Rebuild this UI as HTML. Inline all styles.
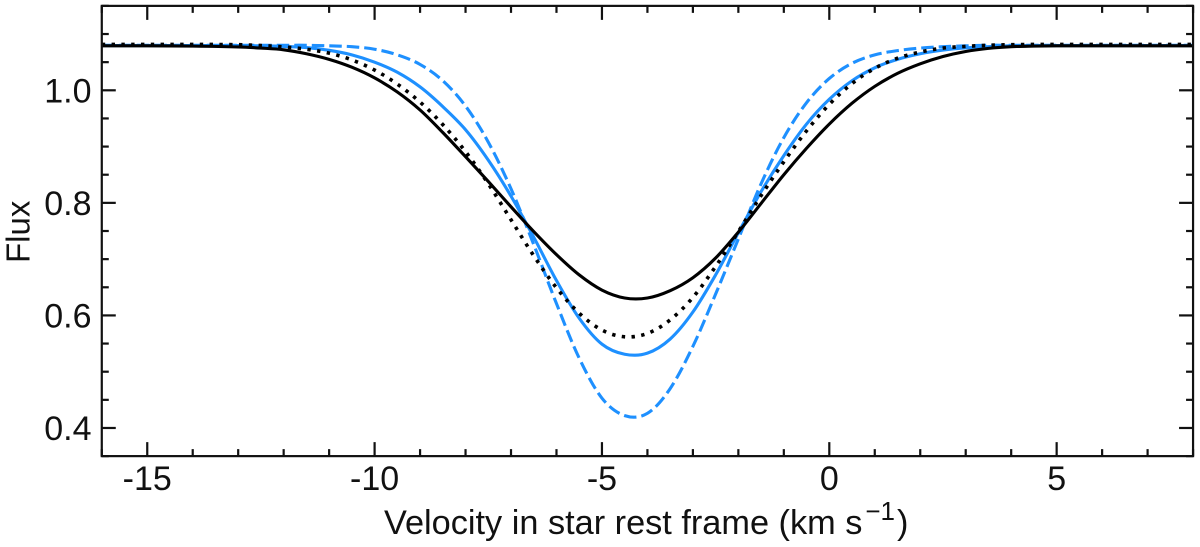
<!DOCTYPE html>
<html>
<head>
<meta charset="utf-8">
<style>
html,body{margin:0;padding:0;background:#fff;width:1200px;height:547px;overflow:hidden}
svg{display:block}
text{font-family:"Liberation Sans",Arial,sans-serif;fill:#111}
</style>
</head>
<body>
<svg id="chart" width="1200" height="547" viewBox="0 0 1200 547" xmlns="http://www.w3.org/2000/svg">
  <text x="384" y="534" font-size="34.3">Velocity in star rest frame (km s<tspan dx="3" dy="-14" font-size="26">−1</tspan><tspan dx="2" dy="14">)</tspan></text>
  <text transform="translate(29.5,263) rotate(-90)" font-size="33">Flux</text>
</svg>
<script>
const velocities = [-16,-15,-14,-13,-12.5,-12,-11.5,-11,-10.5,-10,-9.5,-9,-8.5,-8,-7.5,-7,-6.5,-6,-5.5,-5,-4.5,-4,-3.5,-3,-2.5,-2,-1.5,-1,-0.5,0,0.5,1,1.5,2,2.5,3,3.5,4,4.5,5,6,7,8];
const blackSolid = [1.079,1.079,1.0785,1.077,1.075,1.072,1.065,1.055,1.041,1.022,0.997,0.965,0.925,0.882,0.838,0.793,0.749,0.708,0.672,0.645,0.631,0.631,0.644,0.667,0.702,0.748,0.799,0.850,0.897,0.940,0.977,1.007,1.030,1.047,1.060,1.069,1.0745,1.0775,1.0785,1.079,1.079,1.079,1.079];
const blackDotted = [1.0815,1.0815,1.0815,1.081,1.0795,1.077,1.073,1.066,1.054,1.036,1.011,0.979,0.939,0.891,0.834,0.770,0.706,0.649,0.604,0.574,0.562,0.568,0.592,0.632,0.687,0.749,0.813,0.873,0.928,0.975,1.012,1.039,1.057,1.068,1.075,1.078,1.080,1.081,1.0815,1.0815,1.0815,1.0815,1.0815];
const blueSolid = [1.0795,1.0795,1.0795,1.0795,1.079,1.078,1.076,1.071,1.063,1.050,1.032,1.006,0.971,0.930,0.876,0.812,0.739,0.662,0.595,0.549,0.531,0.533,0.558,0.606,0.672,0.747,0.820,0.884,0.940,0.984,1.017,1.040,1.055,1.065,1.0715,1.0755,1.0775,1.079,1.0795,1.0795,1.0795,1.0795,1.0795];
const blueDashed = [1.08,1.08,1.08,1.08,1.08,1.08,1.08,1.079,1.0775,1.073,1.063,1.046,1.017,0.972,0.908,0.825,0.726,0.621,0.524,0.453,0.422,0.426,0.470,0.545,0.638,0.736,0.834,0.916,0.978,1.021,1.048,1.063,1.0705,1.075,1.0775,1.079,1.08,1.08,1.08,1.08,1.08,1.08,1.08];
const xTickLabels = [-15,-10,-5,0,5];
const xMinorTicks = [-16,-14,-13,-12,-11,-9,-8,-7,-6,-4,-3,-2,-1,1,2,3,4,6,7,8];
const yTickLabels = ["0.4","0.6","0.8","1.0"];
const yMinorTicks = [0.35,0.45,0.5,0.55,0.65,0.7,0.75,0.85,0.9,0.95,1.05,1.1,1.15];

const NS = "http://www.w3.org/2000/svg";
const svg = document.getElementById("chart");
const X0 = 829.3, XS = 45.47, Y1 = 90.3, YS = 562.8;
const sx = v => X0 + v * XS;
const sy = f => Y1 + (1 - f) * YS;
const LEFT = sx(-16), RIGHT = sx(8), TOP = sy(1.15), BOTTOM = sy(0.35);

function curvePath(xs, ys) {
  const n = xs.length, m = [];
  for (let i = 0; i < n; i++) {
    const a = Math.max(0, i - 1), b = Math.min(n - 1, i + 1);
    m.push((ys[b] - ys[a]) / (xs[b] - xs[a]));
  }
  let d = "M" + sx(xs[0]).toFixed(2) + " " + sy(ys[0]).toFixed(2);
  for (let i = 0; i < n - 1; i++) {
    const h = xs[i + 1] - xs[i];
    d += "C" + sx(xs[i] + h / 3).toFixed(2) + " " + sy(ys[i] + m[i] * h / 3).toFixed(2) +
         " " + sx(xs[i + 1] - h / 3).toFixed(2) + " " + sy(ys[i + 1] - m[i + 1] * h / 3).toFixed(2) +
         " " + sx(xs[i + 1]).toFixed(2) + " " + sy(ys[i + 1]).toFixed(2);
  }
  return d;
}

function drawSeries(values, color, dash, name) {
  const p = document.createElementNS(NS, "path");
  p.setAttribute("d", curvePath(velocities, values));
  p.setAttribute("fill", "none");
  p.setAttribute("stroke", color);
  p.setAttribute("stroke-width", dash === "3.4 6.4" ? "3.6" : "3.1");
  if (dash) p.setAttribute("stroke-dasharray", dash);
  
  
  svg.appendChild(p);
}
drawSeries(blueDashed, "#1e90ff", "12.5 5", "series-blue-dashed");
drawSeries(blueSolid, "#1e90ff", null, "series-blue-solid");
drawSeries(blackDotted, "#000", "3.4 6.4", "series-black-dotted");
drawSeries(blackSolid, "#000", null, "series-black-solid");

function line(x1, y1, x2, y2, w, name) {
  const l = document.createElementNS(NS, "line");
  l.setAttribute("x1", x1);
  l.setAttribute("y1", y1);
  l.setAttribute("x2", x2);
  l.setAttribute("y2", y2);
  l.setAttribute("stroke", "#111");
  l.setAttribute("stroke-width", w);
  
  
  svg.appendChild(l);
}
function label(str, x, y, anchor, name) {
  const t = document.createElementNS(NS, "text");
  t.setAttribute("x", x);
  t.setAttribute("y", y);
  t.setAttribute("font-size", "34");
  t.setAttribute("text-anchor", anchor);
  
  
  t.textContent = str;
  svg.appendChild(t);
}

const frame = document.createElementNS(NS, "rect");
frame.setAttribute("x", LEFT);
frame.setAttribute("y", TOP);
frame.setAttribute("width", RIGHT - LEFT);
frame.setAttribute("height", BOTTOM - TOP);
frame.setAttribute("fill", "none");
frame.setAttribute("stroke", "#111");
frame.setAttribute("stroke-width", "2.2");


svg.appendChild(frame);

xTickLabels.forEach(v => {
  line(sx(v), BOTTOM, sx(v), BOTTOM - 14, 2.2, "x-major-tick-bottom");
  line(sx(v), TOP, sx(v), TOP + 14, 2.2, "x-major-tick-top");
  label(v === 0 ? "0" : String(v), sx(v), 490, "middle", "x-tick-label");
});
xMinorTicks.forEach(v => {
  line(sx(v), BOTTOM, sx(v), BOTTOM - 7, 2.2, "x-minor-tick-bottom");
  line(sx(v), TOP, sx(v), TOP + 7, 2.2, "x-minor-tick-top");
});
yTickLabels.forEach(s => {
  const f = parseFloat(s);
  line(LEFT, sy(f), LEFT + 14, sy(f), 2.2, "y-major-tick-left");
  line(RIGHT, sy(f), RIGHT - 14, sy(f), 2.2, "y-major-tick-right");
  label(s, 91.5, sy(f) + 12, "end", "y-tick-label");
});
yMinorTicks.forEach(f => {
  line(LEFT, sy(f), LEFT + 7, sy(f), 2.2, "y-minor-tick-left");
  line(RIGHT, sy(f), RIGHT - 7, sy(f), 2.2, "y-minor-tick-right");
});
</script>
</body>
</html>
